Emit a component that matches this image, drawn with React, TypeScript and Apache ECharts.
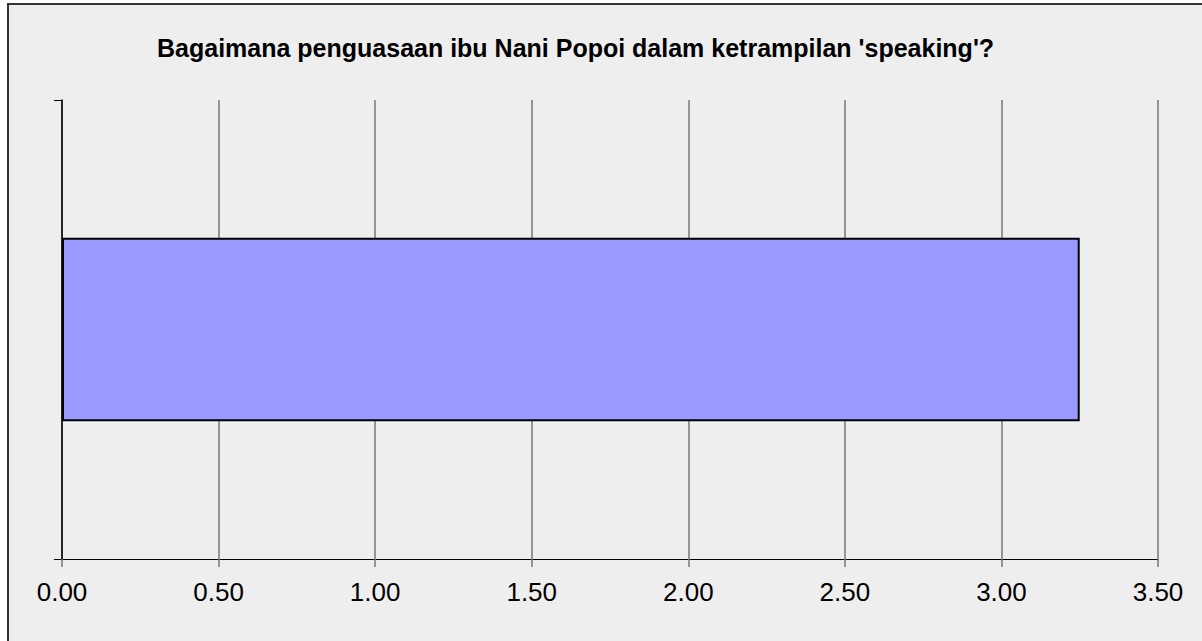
import React, { useEffect, useRef } from "react";
import * as echarts from "echarts";

const titleText = "Bagaimana penguasaan ibu Nani Popoi dalam ketrampilan 'speaking'?";
const categories = ["speaking"];
const values = [3.25];
const xMin = 0;
const xMax = 3.5;
const xInterval = 0.5;

export default function App() {
  const ref = useRef<HTMLDivElement>(null);
  useEffect(() => {
    if (!ref.current) return;
    const chart = echarts.init(ref.current, null, { renderer: "svg" });
    const font = "'Liberation Sans', Arial, sans-serif";
    chart.setOption({
      animation: false,
      backgroundColor: "#ffffff",
      textStyle: { fontFamily: font },
      graphic: [
        {
          type: "rect",
          z: -10,
          shape: { x: 8, y: 4, width: 1400, height: 1000 },
          style: { fill: "#eeeeee", stroke: "#333333", lineWidth: 2 },
        },
      ],
      title: {
        text: titleText,
        left: 152,
        top: 30,
        textStyle: { fontFamily: font, fontSize: 25, fontWeight: "bold", color: "#000" },
      },
      grid: { left: 62, right: 44, top: 100, bottom: 82, containLabel: false },
      xAxis: {
        type: "value",
        min: xMin,
        max: xMax,
        interval: xInterval,
        axisLine: { show: true, lineStyle: { color: "#000", width: 1 } },
        axisTick: { show: true, length: 8, lineStyle: { color: "#777", width: 1.5 } },
        splitLine: { show: true, lineStyle: { color: "#777", width: 1.5 } },
        axisLabel: {
          fontFamily: font,
          fontSize: 26,
          color: "#000",
          margin: 20,
          formatter: (v: number) => v.toFixed(2),
        },
      },
      yAxis: {
        type: "category",
        data: categories,
        axisLine: { show: true, lineStyle: { color: "#000", width: 1.5 } },
        axisTick: { show: true, length: 8, lineStyle: { color: "#000", width: 1 } },
        axisLabel: { show: false },
        splitLine: { show: false },
      },
      series: [
        {
          type: "bar",
          data: values,
          barWidth: "40%",
          itemStyle: { color: "#9999ff", borderColor: "#000", borderWidth: 2 },
        },
      ],
    });
    return () => chart.dispose();
  }, []);
  return (
    <div
      ref={ref}
      style={{ position: "fixed", left: 0, top: 0, width: 1202, height: 641 }}
    />
  );
}
